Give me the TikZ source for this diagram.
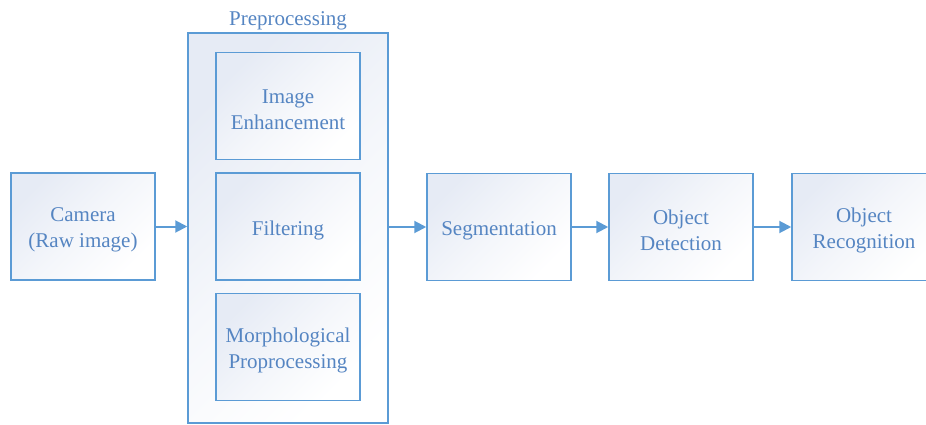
\documentclass[tikz,border=0pt]{standalone}
\usepackage{fontspec}
\setmainfont{Liberation Serif}
\usetikzlibrary{arrows.meta}
\definecolor{bline}{HTML}{5B9BD5}
\definecolor{btext}{HTML}{5585C2}
\definecolor{bshade}{HTML}{E6EBF5}
\tikzset{
  x=1pt, y=-1pt,
  stagebox/.style={draw=bline, line width=1.5pt, shading=axis, top color=bshade, bottom color=white, middle color=bshade!45, shading angle=45,
    minimum width=144pt, minimum height=107pt, inner sep=0pt},
  stagetext/.style={align=center, text=btext, font=\fontsize{21}{26}\selectfont, yshift=-3.5pt},
  groupbox/.style={draw=bline, line width=1.5pt, shading=axis, top color=bshade, bottom color=white, middle color=bshade!40, shading angle=45,
    minimum width=200pt, minimum height=390pt, inner sep=0pt},
  arr/.style={draw=bline, line width=2pt, -{Triangle[length=12pt,width=12pt]}},
}
\begin{document}
\begin{tikzpicture}
\useasboundingbox (0,0) rectangle (926,425);
\clip (0,0) rectangle (926,425);
\node[groupbox] (pre) at (288,228) {};
\node[text=btext, font=\fontsize{21}{26}\selectfont] (prelabel) at (288,21) {Preprocessing};
\node[stagebox, label={[stagetext]center:Image\\Enhancement}] (enh) at (288,106) {};
\node[stagebox, label={[stagetext]center:Filtering}] (filt) at (288,226.5) {};
\node[stagebox, label={[stagetext]center:Morphological\\Proprocessing}] (morph) at (288,347) {};
\node[stagebox, label={[stagetext]center:Camera\\(Raw image)}] (cam) at (83,226.5) {};
\node[stagebox, label={[stagetext]center:Segmentation}] (seg) at (499,227) {};
\node[stagebox, label={[stagetext]center:Object\\Detection}] (det) at (681,227) {};
\node[stagebox, label={[stagetext]center:Object\\Recognition}] (rec) at (864,227) {};
\draw[arr] (cam.east) -- (cam.east -| pre.west);
\draw[arr] (pre.east |- seg.west) -- (seg.west);
\draw[arr] (seg.east) -- (det.west);
\draw[arr] (det.east) -- (rec.west);
\end{tikzpicture}
\end{document}
